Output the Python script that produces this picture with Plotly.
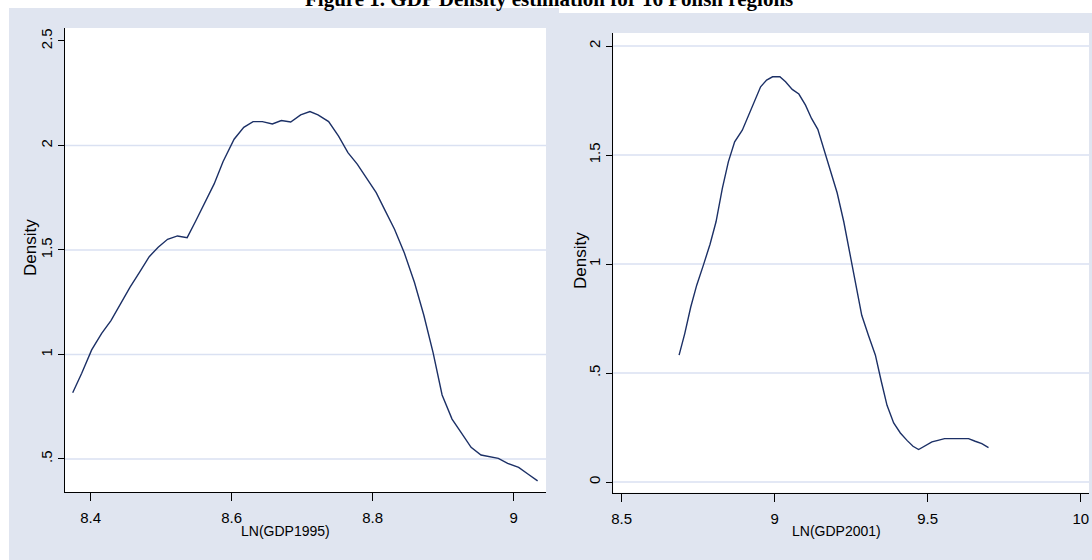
import plotly.graph_objects as go

# ---- data ----
x1995 = [8.3745, 8.3873, 8.4014, 8.4156, 8.4288, 8.4415, 8.4557, 8.4699, 8.4831, 8.4958,
         8.5091, 8.5232, 8.5369, 8.5487, 8.5619, 8.5752, 8.5879, 8.6035, 8.6172, 8.6304,
         8.6436, 8.6578, 8.6705, 8.6838, 8.6979, 8.7111, 8.7225, 8.7376, 8.7517, 8.7650,
         8.7782, 8.7914, 8.8051, 8.8178, 8.8311, 8.8452, 8.8594, 8.8726, 8.8858, 8.8986,
         8.9127, 8.9264, 8.9397, 8.9538, 8.9670, 8.9784, 8.9916, 9.0072, 9.0208, 9.0341]
d1995 = [0.817, 0.910, 1.022, 1.101, 1.162, 1.237, 1.321, 1.396, 1.468, 1.513,
         1.551, 1.567, 1.559, 1.636, 1.727, 1.816, 1.923, 2.030, 2.087, 2.114,
         2.114, 2.103, 2.119, 2.112, 2.146, 2.162, 2.146, 2.114, 2.045, 1.966,
         1.911, 1.843, 1.774, 1.688, 1.599, 1.484, 1.344, 1.189, 1.009, 0.806,
         0.691, 0.623, 0.556, 0.519, 0.511, 0.503, 0.479, 0.460, 0.427, 0.395]

x2001 = [8.6879, 8.7064, 8.7260, 8.7455, 8.7673, 8.7890, 8.8086, 8.8292, 8.8488, 8.8694,
         8.8944, 8.9140, 8.9346, 8.9542, 8.9738, 8.9933, 9.0172, 9.0357, 9.0575, 9.0792,
         9.1009, 9.1205, 9.1411, 9.1607, 9.1802, 9.2042, 9.2259, 9.2455, 9.2650, 9.2846,
         9.3063, 9.3292, 9.3476, 9.3672, 9.3889, 9.4107, 9.4324, 9.4520, 9.4704, 9.4922,
         9.5139, 9.5335, 9.5552, 9.5770, 9.5954, 9.6172, 9.6335, 9.6552, 9.6769, 9.6987]
d2001 = [0.582, 0.681, 0.803, 0.903, 0.995, 1.091, 1.194, 1.347, 1.469, 1.561,
         1.614, 1.679, 1.755, 1.813, 1.844, 1.859, 1.859, 1.836, 1.801, 1.780,
         1.729, 1.668, 1.618, 1.530, 1.431, 1.327, 1.194, 1.048, 0.895, 0.765,
         0.673, 0.582, 0.467, 0.352, 0.271, 0.225, 0.191, 0.164, 0.149, 0.168,
         0.184, 0.191, 0.199, 0.199, 0.199, 0.199, 0.199, 0.187, 0.176, 0.158]

x1_ticks = [8.4, 8.6, 8.8, 9.0]
x1_labels = ["8.4", "8.6", "8.8", "9"]
y1_ticks = [0.5, 1.0, 1.5, 2.0, 2.5]
y1_labels = [".5", "1", "1.5", "2", "2.5"]
y1_grid = [0.5, 1.0, 1.5, 2.0]

x2_ticks = [8.5, 9.0, 9.5, 10.0]
x2_labels = ["8.5", "9", "9.5", "10"]
y2_ticks = [0.0, 0.5, 1.0, 1.5, 2.0]
y2_labels = ["0", ".5", "1", "1.5", "2"]
y2_grid = [0.0, 0.5, 1.0, 1.5, 2.0]

title_text = "Figure 1. GDP Density estimation for 16 Polish regions"
xtitle1 = "LN(GDP1995)"
xtitle2 = "LN(GDP2001)"
ytitle = "Density"

# ---- layout geometry ----
W, H = 1092, 560
BG = "rgb(224,229,240)"
GRID = "rgb(218,225,242)"
LINE = "rgb(28,48,102)"
FONT = "Liberation Sans, Arial, sans-serif"


def px(x):
    return x / W


def py(y):
    return 1 - y / H


fig = go.Figure()
fig.add_trace(go.Scatter(x=x1995, y=d1995, mode="lines", xaxis="x", yaxis="y",
                         line=dict(color=LINE, width=1.4), showlegend=False))
fig.add_trace(go.Scatter(x=x2001, y=d2001, mode="lines", xaxis="x2", yaxis="y2",
                         line=dict(color=LINE, width=1.4), showlegend=False))

axis_common = dict(showgrid=False, zeroline=False, showline=True, linecolor="black",
                   linewidth=1, ticks="outside", tickcolor="black", tickwidth=1,
                   tickfont=dict(family=FONT, size=15, color="black"))

fig.update_layout(
    width=W, height=H, margin=dict(l=0, r=0, t=0, b=0),
    paper_bgcolor="white", plot_bgcolor="white", showlegend=False,
    xaxis=dict(domain=[px(62.7), px(545)], range=[8.363, 9.046], anchor="y",
               tickvals=x1_ticks, ticktext=x1_labels, ticklen=8, ticklabelstandoff=4,
               **axis_common),
    yaxis=dict(domain=[py(492), py(28)], range=[0.342, 2.562], anchor="x",
               tickvals=y1_ticks, ticktext=y1_labels, ticklen=6, tickangle=-90,
               **axis_common),
    xaxis2=dict(domain=[px(612.3), px(1089)], range=[8.4726, 10.027], anchor="y2",
                tickvals=x2_ticks, ticktext=x2_labels, ticklen=8, ticklabelstandoff=4,
                **axis_common),
    yaxis2=dict(domain=[py(492.7), py(33)], range=[-0.049, 2.06], anchor="x2",
                tickvals=y2_ticks, ticktext=y2_labels, ticklen=6, tickangle=-90,
                **axis_common),
)

shapes = [
    # outer graph regions
    dict(type="rect", xref="paper", yref="paper", x0=px(7), x1=px(558), y0=0, y1=py(8),
         fillcolor=BG, line=dict(width=0), layer="below"),
    dict(type="rect", xref="paper", yref="paper", x0=px(558), x1=1, y0=0, y1=py(13),
         fillcolor=BG, line=dict(width=0), layer="below"),
    # white plot regions
    dict(type="rect", xref="x domain", yref="y domain", x0=0, x1=1, y0=0, y1=1,
         fillcolor="white", line=dict(width=0), layer="below"),
    dict(type="rect", xref="x2 domain", yref="y2 domain", x0=0, x1=1, y0=0, y1=1,
         fillcolor="white", line=dict(width=0), layer="below"),
]
for g in y1_grid:
    shapes.append(dict(type="line", xref="x domain", yref="y", x0=0, x1=1, y0=g, y1=g,
                       line=dict(color=GRID, width=1.5), layer="below"))
for g in y2_grid:
    shapes.append(dict(type="line", xref="x2 domain", yref="y2", x0=0, x1=1, y0=g, y1=g,
                       line=dict(color=GRID, width=1.5), layer="below"))
fig.update_layout(shapes=shapes)

ann = [
    dict(text="<b>" + title_text + "</b>", x=px(548), y=py(-1), xref="paper", yref="paper",
         xanchor="center", yanchor="middle", showarrow=False,
         font=dict(family="Liberation Serif, Times New Roman, serif", size=21, color="black")),
    dict(text=xtitle1, x=px(284), y=py(531), xref="paper", yref="paper",
         xanchor="center", yanchor="middle", showarrow=False,
         font=dict(family=FONT, size=14, color="black")),
    dict(text=xtitle2, x=px(836), y=py(531), xref="paper", yref="paper",
         xanchor="center", yanchor="middle", showarrow=False,
         font=dict(family=FONT, size=14, color="black")),
    dict(text=ytitle, x=px(28), y=py(247), xref="paper", yref="paper", textangle=-90,
         xanchor="center", yanchor="middle", showarrow=False,
         font=dict(family=FONT, size=17, color="black")),
    dict(text=ytitle, x=px(579), y=py(260), xref="paper", yref="paper", textangle=-90,
         xanchor="center", yanchor="middle", showarrow=False,
         font=dict(family=FONT, size=17, color="black")),
]
fig.update_layout(annotations=ann)

fig.write_html("out.html")
